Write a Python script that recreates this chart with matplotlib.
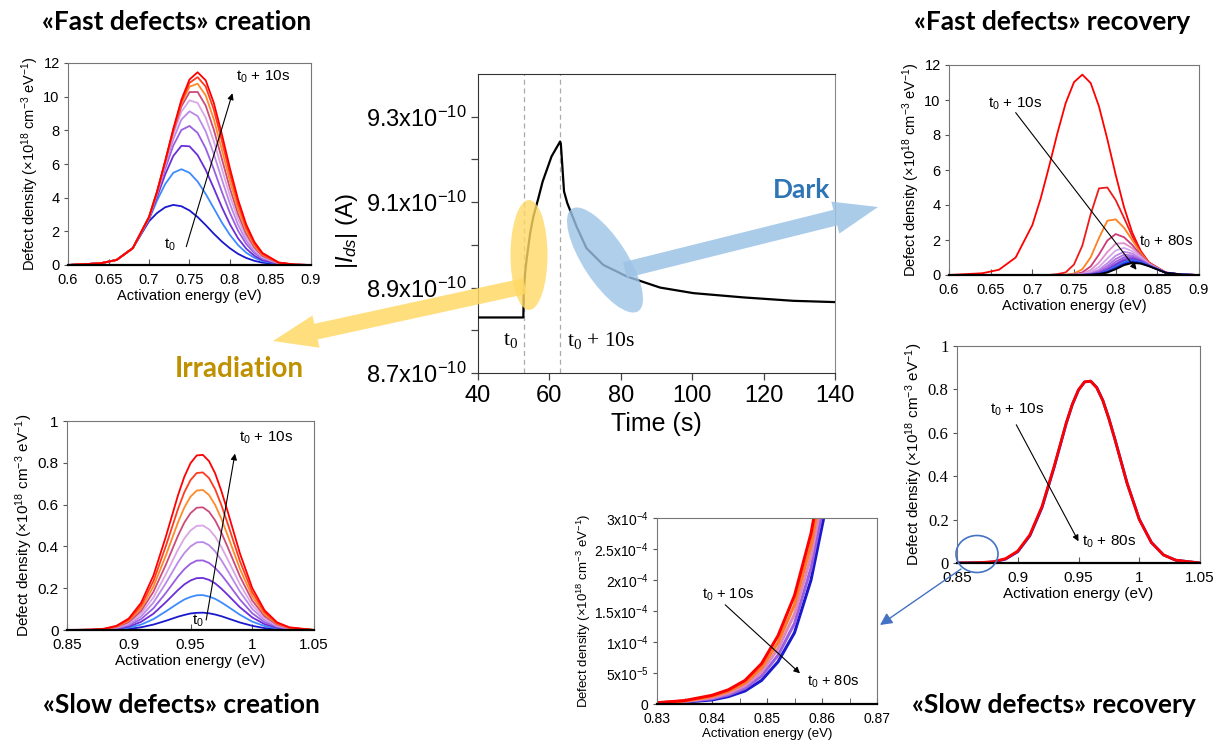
import matplotlib
matplotlib.use("Agg")
import matplotlib.pyplot as plt
from matplotlib.patches import Ellipse, FancyArrow

plt.rcParams["font.family"] = ["Liberation Sans", "DejaVu Sans"]
plt.rcParams["mathtext.fontset"] = "custom"
plt.rcParams["mathtext.rm"] = "Liberation Sans"
plt.rcParams["mathtext.it"] = "Liberation Sans:italic"
plt.rcParams["mathtext.default"] = "regular"

# ---- central panel: drain current transient
time_s = [40, 52.7, 52.8, 53.2, 53.6, 54.6, 55.5, 56.9, 58.1, 60.6, 63.0, 63.2,
          64.1, 65.0, 67.6, 70.4, 75.1, 81.7, 91.0, 100.3, 114.3, 128.3, 140]
ids_A = [8.830e-10, 8.830e-10, 8.887e-10, 8.934e-10, 8.965e-10, 9.027e-10, 9.066e-10,
         9.109e-10, 9.148e-10, 9.207e-10, 9.242e-10, 9.237e-10, 9.125e-10, 9.098e-10,
         9.043e-10, 8.992e-10, 8.953e-10, 8.926e-10, 8.900e-10, 8.887e-10, 8.877e-10,
         8.869e-10, 8.866e-10]
t_on = 53
t_off = 63
ids_ticks = [8.7e-10, 8.9e-10, 9.1e-10, 9.3e-10]
ids_ticklabels = [r"8.7x10$^{-10}$", r"8.9x10$^{-10}$", r"9.1x10$^{-10}$", r"9.3x10$^{-10}$"]

# ---- fast defects (energy grid shared by creation and recovery)
energy_fast = [0.60, 0.64, 0.66, 0.68, 0.70, 0.71, 0.72, 0.73, 0.74, 0.75, 0.76,
               0.77, 0.78, 0.79, 0.80, 0.81, 0.82, 0.83, 0.84, 0.86, 0.88, 0.90]

# creation, t0 -> t0 + 10s
fast_creation = [
    [0, 0.1, 0.3, 1.0, 2.60, 3.09, 3.43, 3.57, 3.49, 3.24, 2.85, 2.37, 1.86, 1.39, 0.99, 0.66, 0.42, 0.25, 0.14, 0.05, 0.01, 0],
    [0, 0.1, 0.3, 1.0, 2.70, 3.84, 4.81, 5.48, 5.69, 5.48, 4.96, 4.22, 3.37, 2.52, 1.78, 1.18, 0.73, 0.43, 0.23, 0.06, 0.01, 0],
    [0, 0.1, 0.3, 1.0, 2.75, 4.05, 5.38, 6.48, 7.08, 7.05, 6.53, 5.65, 4.56, 3.43, 2.41, 1.58, 0.97, 0.55, 0.29, 0.07, 0.01, 0],
    [0, 0.1, 0.3, 1.0, 2.78, 4.18, 5.71, 7.10, 8.02, 8.26, 7.85, 6.93, 5.69, 4.34, 3.08, 2.03, 1.25, 0.71, 0.38, 0.09, 0.02, 0],
    [0, 0.1, 0.3, 1.0, 2.80, 4.25, 5.90, 7.48, 8.64, 9.13, 8.85, 7.94, 6.60, 5.08, 3.62, 2.38, 1.45, 0.82, 0.43, 0.10, 0.02, 0],
    [0, 0.1, 0.3, 1.0, 2.82, 4.31, 6.05, 7.76, 9.11, 9.78, 9.63, 8.75, 7.36, 5.71, 4.09, 2.71, 1.65, 0.93, 0.49, 0.11, 0.02, 0],
    [0, 0.1, 0.3, 1.0, 2.83, 4.34, 6.13, 7.93, 9.42, 10.27, 10.28, 9.47, 8.04, 6.30, 4.54, 3.02, 1.85, 1.05, 0.54, 0.12, 0.02, 0],
    [0, 0.1, 0.3, 1.0, 2.84, 4.37, 6.16, 8.02, 9.60, 10.59, 10.77, 10.07, 8.66, 6.84, 4.97, 3.32, 2.04, 1.15, 0.60, 0.13, 0.02, 0],
    [0, 0.1, 0.3, 1.0, 2.85, 4.36, 6.15, 8.03, 9.69, 10.82, 11.16, 10.60, 9.23, 7.37, 5.40, 3.63, 2.23, 1.26, 0.65, 0.14, 0.02, 0],
    [0, 0.1, 0.3, 1.0, 2.85, 4.37, 6.18, 8.09, 9.82, 11.02, 11.45, 10.97, 9.63, 7.76, 5.73, 3.88, 2.41, 1.38, 0.72, 0.15, 0.03, 0],
]
creation_colors = ["#1a1acc", "#3d8bfd", "#6a2fd6", "#9a5ee0", "#bb8ae6",
                   "#d9a6e6", "#cc4a7a", "#ff8a2a", "#ff3b1f", "#ff0000"]

# recovery, t0 + 10s -> t0 + 80s
fast_recovery = [
    [0, 0.1, 0.3, 1.0, 2.85, 4.37, 6.18, 8.09, 9.82, 11.02, 11.45, 10.97, 9.63, 7.76, 5.73, 3.88, 2.41, 1.38, 0.72, 0.15, 0.03, 0],
    [0, 0, 0, 0, 0, 0, 0, 0.05, 0.15, 0.60, 1.68, 3.47, 4.95, 5.00, 4.28, 3.27, 2.20, 1.30, 0.68, 0.13, 0.02, 0],
    [0, 0, 0, 0, 0, 0, 0, 0, 0.01, 0.08, 0.33, 1.01, 2.12, 3.10, 3.18, 2.70, 1.99, 1.26, 0.68, 0.13, 0.02, 0],
    [0, 0, 0, 0, 0, 0, 0, 0, 0, 0.03, 0.15, 0.49, 1.17, 1.97, 2.34, 2.16, 1.71, 1.15, 0.66, 0.13, 0.02, 0],
    [0, 0, 0, 0, 0, 0, 0, 0, 0, 0.02, 0.08, 0.28, 0.71, 1.31, 1.79, 1.82, 1.53, 1.08, 0.64, 0.13, 0.02, 0],
    [0, 0, 0, 0, 0, 0, 0, 0, 0, 0, 0.04, 0.17, 0.46, 0.94, 1.40, 1.55, 1.36, 1.01, 0.62, 0.13, 0.02, 0],
    [0, 0, 0, 0, 0, 0, 0, 0, 0, 0, 0.02, 0.10, 0.30, 0.67, 1.10, 1.33, 1.23, 0.94, 0.60, 0.13, 0.02, 0],
    [0, 0, 0, 0, 0, 0, 0, 0, 0, 0, 0.02, 0.07, 0.22, 0.52, 0.91, 1.16, 1.12, 0.89, 0.58, 0.13, 0.02, 0],
    [0, 0, 0, 0, 0, 0, 0, 0, 0, 0, 0.01, 0.05, 0.16, 0.40, 0.75, 1.02, 1.03, 0.84, 0.56, 0.13, 0.02, 0],
    [0, 0, 0, 0, 0, 0, 0, 0, 0, 0, 0, 0.03, 0.12, 0.32, 0.62, 0.90, 0.96, 0.81, 0.55, 0.13, 0.02, 0],
    [0, 0, 0, 0, 0, 0, 0, 0, 0, 0, 0, 0.03, 0.10, 0.27, 0.55, 0.82, 0.90, 0.77, 0.54, 0.13, 0.02, 0],
    [0, 0, 0, 0, 0, 0, 0, 0, 0, 0, 0, 0.02, 0.08, 0.23, 0.48, 0.74, 0.84, 0.74, 0.53, 0.13, 0.02, 0],
    [0, 0, 0, 0, 0, 0, 0, 0, 0, 0, 0, 0.02, 0.07, 0.20, 0.43, 0.68, 0.79, 0.71, 0.52, 0.13, 0.02, 0],
    [0, 0, 0, 0, 0, 0, 0, 0, 0, 0, 0, 0.01, 0.06, 0.17, 0.37, 0.61, 0.74, 0.68, 0.51, 0.13, 0.02, 0],
    [0, 0, 0, 0, 0, 0, 0, 0, 0, 0, 0, 0.01, 0.05, 0.14, 0.33, 0.56, 0.69, 0.65, 0.50, 0.13, 0.02, 0],
]
recovery_colors = ["#ff0000", "#ee1b1b", "#ff8020", "#cc3a78", "#dd8fd0", "#d4a6ee", "#c08ae6",
                   "#ad72e0", "#9a5ade", "#8046dc", "#6a36d6", "#3f7cf5", "#2a4cf0", "#1414b0", "#000000"]

# ---- slow defects
energy_slow = [0.85, 0.87, 0.88, 0.89, 0.90, 0.91, 0.92, 0.93, 0.94, 0.945, 0.95, 0.955,
               0.96, 0.965, 0.97, 0.975, 0.98, 0.99, 1.00, 1.01, 1.02, 1.03, 1.05]

slow_creation = [
    [0, 0, 0.001, 0.002, 0.005, 0.013, 0.026, 0.044, 0.064, 0.072, 0.079, 0.082, 0.083, 0.080, 0.074, 0.066, 0.056, 0.036, 0.020, 0.009, 0.004, 0.001, 0],
    [0, 0, 0.001, 0.004, 0.011, 0.026, 0.052, 0.089, 0.128, 0.146, 0.158, 0.166, 0.167, 0.160, 0.149, 0.132, 0.113, 0.073, 0.040, 0.019, 0.007, 0.003, 0],
    [0, 0, 0.002, 0.006, 0.016, 0.039, 0.078, 0.133, 0.192, 0.218, 0.237, 0.248, 0.249, 0.240, 0.223, 0.198, 0.169, 0.109, 0.060, 0.028, 0.011, 0.004, 0],
    [0, 0.001, 0.002, 0.008, 0.022, 0.052, 0.104, 0.177, 0.257, 0.291, 0.317, 0.332, 0.333, 0.321, 0.297, 0.264, 0.226, 0.146, 0.080, 0.037, 0.015, 0.005, 0],
    [0, 0.001, 0.003, 0.010, 0.027, 0.065, 0.131, 0.224, 0.325, 0.368, 0.400, 0.419, 0.421, 0.406, 0.376, 0.334, 0.285, 0.184, 0.101, 0.047, 0.019, 0.006, 0],
    [0, 0.001, 0.004, 0.012, 0.033, 0.078, 0.156, 0.266, 0.386, 0.438, 0.476, 0.498, 0.500, 0.482, 0.447, 0.397, 0.339, 0.219, 0.120, 0.056, 0.022, 0.008, 0],
    [0, 0.001, 0.004, 0.014, 0.038, 0.091, 0.183, 0.312, 0.453, 0.514, 0.559, 0.585, 0.587, 0.566, 0.524, 0.466, 0.398, 0.257, 0.141, 0.066, 0.026, 0.009, 0],
    [0, 0.001, 0.005, 0.016, 0.044, 0.104, 0.208, 0.356, 0.517, 0.586, 0.638, 0.667, 0.670, 0.646, 0.598, 0.532, 0.454, 0.293, 0.161, 0.075, 0.030, 0.010, 0],
    [0, 0.001, 0.005, 0.018, 0.049, 0.117, 0.234, 0.401, 0.581, 0.659, 0.717, 0.751, 0.754, 0.727, 0.673, 0.598, 0.511, 0.330, 0.181, 0.085, 0.033, 0.011, 0],
    [0, 0.002, 0.006, 0.020, 0.055, 0.130, 0.261, 0.446, 0.647, 0.733, 0.798, 0.835, 0.838, 0.808, 0.749, 0.665, 0.569, 0.367, 0.201, 0.094, 0.037, 0.013, 0],
]

slow_recovery = [
    [0, 0.001, 0.005, 0.018, 0.052, 0.126, 0.256, 0.442, 0.645, 0.731, 0.797, 0.834, 0.838, 0.809, 0.750, 0.666, 0.570, 0.368, 0.202, 0.095, 0.037, 0.013, 0],
    [0, 0.002, 0.006, 0.020, 0.055, 0.130, 0.261, 0.446, 0.647, 0.733, 0.798, 0.835, 0.838, 0.808, 0.749, 0.665, 0.569, 0.367, 0.201, 0.094, 0.037, 0.013, 0],
]
slow_recovery_colors = ["#1a1acc", "#ff0000"]

# zoom on the low-energy tail of the slow recovery
energy_tail = [0.83, 0.835, 0.84, 0.843, 0.846, 0.849, 0.852, 0.855, 0.858, 0.861]
tail_recovery = [
    [1.0e-6, 3.0e-6, 6.5e-6, 1.20e-5, 2.10e-5, 3.80e-5, 6.80e-5, 1.15e-4, 2.00e-4, 3.30e-4],
    [1.25e-6, 3.6e-6, 8.4e-6, 1.48e-5, 2.53e-5, 4.50e-5, 7.85e-5, 1.30e-4, 2.19e-4, 3.53e-4],
    [1.5e-6, 4.3e-6, 1.03e-5, 1.75e-5, 2.95e-5, 5.15e-5, 8.90e-5, 1.45e-4, 2.38e-4, 3.75e-4],
    [1.75e-6, 4.9e-6, 1.21e-5, 2.03e-5, 3.38e-5, 5.80e-5, 9.90e-5, 1.60e-4, 2.56e-4, 3.98e-4],
    [2.0e-6, 5.5e-6, 1.40e-5, 2.30e-5, 3.80e-5, 6.50e-5, 1.10e-4, 1.75e-4, 2.75e-4, 4.20e-4],
]
tail_colors = ["#1a1acc", "#9a5ee0", "#dd88bb", "#ff7a2a", "#ff0000"]
tail_ticks = [0, 5e-5, 1e-4, 1.5e-4, 2e-4, 2.5e-4, 3e-4]
tail_ticklabels = ["0", r"5x10$^{-5}$", r"1x10$^{-4}$", r"1.5x10$^{-4}$",
                   r"2x10$^{-4}$", r"2.5x10$^{-4}$", r"3x10$^{-4}$"]

W, H = 1219, 747
fig = plt.figure(figsize=(W / 100, H / 100), dpi=100)


def box(x0, y0, x1, y1):
    # pixel box (top-left origin) -> figure fraction rect
    return [x0 / W, 1 - y1 / H, (x1 - x0) / W, (y1 - y0) / H]


ylab = r"Defect density (×10$^{18}$ cm$^{-3}$ eV$^{-1}$)"


def panel(rect, xlim, xticks, xlabels, ylim, yticks, ylabels, fs):
    ax = fig.add_axes(rect)
    ax.set_xlim(xlim)
    ax.set_ylim(ylim)
    ax.set_xticks(xticks, xlabels, fontsize=fs)
    ax.set_yticks(yticks, ylabels, fontsize=fs)
    ax.tick_params(axis="x", direction="in", length=4, width=0.8, color="#555555", pad=6)
    ax.tick_params(axis="y", direction="out", length=3, width=0.8, color="#555555", pad=3)
    for s in ax.spines.values():
        s.set_color("#777777")
    ax.spines["bottom"].set_color("black")
    ax.spines["bottom"].set_linewidth(1.6)
    ax.set_xlabel("Activation energy (eV)", fontsize=fs, labelpad=1)
    ax.set_ylabel(ylab, fontsize=fs, labelpad=2)
    return ax


def arrow(ax, start, end):
    ax.annotate("", xy=end, xytext=start,
                arrowprops=dict(arrowstyle="-|>", color="black", lw=0.8,
                                mutation_scale=9, shrinkA=0, shrinkB=0))


fast_xt = [0.6, 0.65, 0.7, 0.75, 0.8, 0.85, 0.9]
fast_xl = ["0.6", "0.65", "0.7", "0.75", "0.8", "0.85", "0.9"]
fast_yt = [0, 2, 4, 6, 8, 10, 12]
slow_xt = [0.85, 0.9, 0.95, 1.0, 1.05]
slow_xl = ["0.85", "0.9", "0.95", "1", "1.05"]
slow_yt = [0, 0.2, 0.4, 0.6, 0.8, 1.0]
slow_yl = ["0", "0.2", "0.4", "0.6", "0.8", "1"]

# «Fast defects» creation
ax1 = panel(box(68, 63, 311, 265), (0.6, 0.9), fast_xt, fast_xl, (0, 12), fast_yt,
            [str(v) for v in fast_yt], 10.5)
for vals, c in zip(fast_creation, creation_colors):
    ax1.plot(energy_fast, vals, color=c, lw=1.3)
arrow(ax1, (0.746, 1.09), (0.803, 10.2))
ax1.text(0.726, 1.2, r"t$_0$", fontsize=11, ha="center", va="center")
ax1.text(0.808, 11.2, r"t$_0$ + 10s", fontsize=11, ha="left", va="center")

# «Fast defects» recovery
ax2 = panel(box(949, 65, 1199, 275), (0.6, 0.9), fast_xt, fast_xl, (0, 12), fast_yt,
            [str(v) for v in fast_yt], 10.5)
for vals, c in zip(fast_recovery, recovery_colors):
    ax2.plot(energy_fast, vals, color=c, lw=1.3)
arrow(ax2, (0.680, 9.28), (0.825, 0.3))
ax2.text(0.647, 9.8, r"t$_0$ + 10s", fontsize=11, ha="left", va="center")
ax2.text(0.828, 1.92, r"t$_0$ + 80s", fontsize=11, ha="left", va="center")

# «Slow defects» creation
ax3 = panel(box(67, 421, 314, 630), (0.85, 1.05), slow_xt, slow_xl, (0, 1), slow_yt,
            slow_yl, 11)
for vals, c in zip(slow_creation, creation_colors):
    ax3.plot(energy_slow, vals, color=c, lw=1.3)
arrow(ax3, (0.9627, 0.048), (0.986, 0.844))
ax3.text(0.956, 0.045, r"t$_0$", fontsize=11, ha="center", va="center")
ax3.text(0.989, 0.92, r"t$_0$ + 10s", fontsize=11, ha="left", va="center")

# «Slow defects» recovery
ax4 = panel(box(957, 346, 1200, 563), (0.85, 1.05), slow_xt, slow_xl, (0, 1), slow_yt,
            slow_yl, 11)
for lbl in ax4.get_yticklabels():
    lbl.set_fontfamily("Liberation Serif")
    lbl.set_fontsize(12)
for vals, c in zip(slow_recovery, slow_recovery_colors):
    ax4.plot(energy_slow, vals, color=c, lw=2)
arrow(ax4, (0.8988, 0.637), (0.95, 0.1))
ax4.text(0.877, 0.705, r"t$_0$ + 10s", fontsize=11, ha="left", va="center")
ax4.text(0.953, 0.1, r"t$_0$ + 80s", fontsize=11, ha="left", va="center")

# zoomed tail
ax5 = panel(box(657, 518, 877, 704), (0.83, 0.87), [0.83, 0.84, 0.85, 0.86, 0.87],
            ["0.83", "0.84", "0.85", "0.86", "0.87"], (0, 3e-4), tail_ticks,
            tail_ticklabels, 10)
ax5.set_xticks([0.835, 0.845, 0.855, 0.865], minor=True)
ax5.tick_params(axis="x", which="minor", direction="in", length=4, color="#555555")
ax5.set_xlabel("Activation energy (eV)", fontsize=9.5, labelpad=1)
ax5.set_ylabel(ylab, fontsize=9.5, labelpad=1)
for vals, c in zip(tail_recovery, tail_colors):
    ax5.plot(energy_tail, vals, color=c, lw=2.2)
arrow(ax5, (0.8424, 1.6e-4), (0.856, 4.95e-5))
ax5.text(0.8381, 1.76e-4, r"t$_0$ + 10s", fontsize=10.5, ha="left", va="center")
ax5.text(0.8572, 3.6e-5, r"t$_0$ + 80s", fontsize=10.5, ha="left", va="center")

# central transient
ax0 = fig.add_axes(box(478, 74, 835, 373))
ax0.plot(time_s, ids_A, color="black", lw=1.6, zorder=3)
for t in (t_on, t_off):
    ax0.axvline(t, color="#aaaaaa", lw=0.9, ls=(0, (4, 3)), zorder=1)
ax0.set_xlim(40, 140)
ax0.set_ylim(8.7e-10, 9.4e-10)
ax0.set_xticks([40, 60, 80, 100, 120, 140], ["40", "60", "80", "100", "120", "140"], fontsize=17)
ax0.set_yticks(ids_ticks, ids_ticklabels, fontsize=17)
ax0.set_yticks([8.8e-10, 9.0e-10, 9.2e-10], minor=True)
ax0.tick_params(which="both", direction="out", length=5, width=0.9, color="#444444")
for s in ax0.spines.values():
    s.set_color("#333333")
ax0.spines["right"].set_color("#888888")
ax0.set_xlabel("Time (s)", fontsize=18, labelpad=4)
ax0.set_ylabel(r"$|\mathit{I_{ds}}|$ (A)", fontsize=17)
ax0.yaxis.set_label_coords(-0.33, 0.475)
serif = ["Liberation Serif", "DejaVu Serif"]
ax0.text(49.2, 8.775e-10, r"t$_0$", family=serif, fontsize=15.5, ha="center", va="center")
ax0.text(64.9, 8.775e-10, r"t$_0$ + 10s", family=serif, fontsize=15.5, ha="left", va="center")

# overlay in pixel coordinates for arrows, highlights and titles
ov = fig.add_axes([0, 0, 1, 1], zorder=10)
ov.set_xlim(0, W)
ov.set_ylim(H, 0)
ov.axis("off")
ov.patch.set_alpha(0)

ov.add_patch(Ellipse((529, 255), 37, 110, color="#ffd966", alpha=0.8, lw=0))
ov.add_patch(FancyArrow(525, 286, -252, 55, width=16, head_width=33, head_length=44,
                        length_includes_head=True, color="#ffd966", alpha=0.85, lw=0))
ov.add_patch(Ellipse((605, 260), 122, 44, angle=57, color="#9dc3e6", alpha=0.8, lw=0))
ov.add_patch(FancyArrow(625, 270, 253, -63, width=16, head_width=33, head_length=44,
                        length_includes_head=True, color="#9dc3e6", alpha=0.85, lw=0))
ov.add_patch(Ellipse((977, 554), 42, 37, fill=False, ec="#4472c4", lw=1.2))
ov.annotate("", xy=(880, 625), xytext=(961, 569),
            arrowprops=dict(arrowstyle="-|>", color="#4472c4", lw=1, mutation_scale=18,
                            shrinkA=0, shrinkB=0))

ov.text(239, 369, "Irradiation", color="#bf9000", fontsize=20, fontweight="bold",
        family="Lato", ha="center", va="center")
ov.text(802, 190, "Dark", color="#2e75b6", fontsize=19, fontweight="bold",
        family="Lato", ha="center", va="center")

title_kw = dict(fontsize=19, fontweight="bold", family="Lato", ha="center", va="center")
ov.text(177, 22, "«Fast defects» creation", **title_kw)
ov.text(1052, 22, "«Fast defects» recovery", **title_kw)
ov.text(181, 705, "«Slow defects» creation", **title_kw)
ov.text(1054, 705, "«Slow defects» recovery", **title_kw)

fig.savefig("out.png", dpi=100)
